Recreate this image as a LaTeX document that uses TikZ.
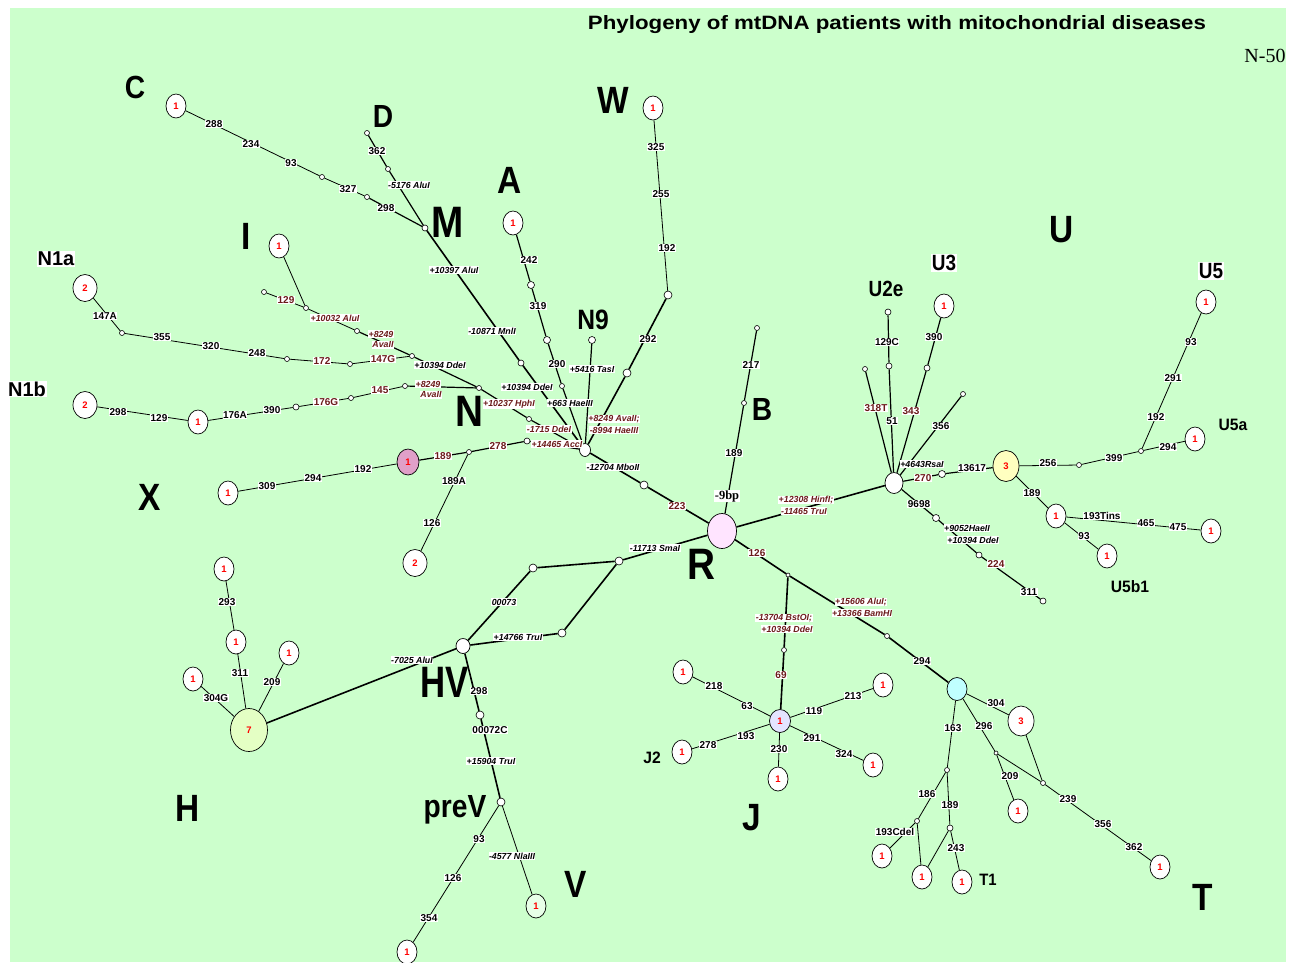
\documentclass[tikz,border=0pt]{standalone}
\usepackage{fontspec}
\usepackage{graphicx}
\setmainfont{Liberation Serif}
\setsansfont{Liberation Sans}
\usetikzlibrary{shapes.geometric}
\definecolor{bggreen}{HTML}{CCFFCC}
\definecolor{lblred}{HTML}{6B1A1A}
\definecolor{rpink}{HTML}{FFE4FF}
\definecolor{xpink}{HTML}{E0A0C8}
\definecolor{hyel}{HTML}{E4FFC4}
\definecolor{uyel}{HTML}{FFFFC0}
\definecolor{tcyan}{HTML}{C0FFFF}
\definecolor{jlav}{HTML}{E4E4FF}
\definecolor{vgreen}{HTML}{E8FFE8}
\newcounter{lbc}
\newcommand\lb[4][lab]{\stepcounter{lbc}\node[#1] (lb\arabic{lbc}) at (#2,#3) {#4};}
\newcommand\bgt[3][0.88]{\fontsize{#2}{#2}\selectfont\scalebox{#1}[1]{#3}}
\begin{document}
\begin{tikzpicture}[x=1pt,y=-1pt,
  leaf/.style={ellipse, draw, fill=white, line width=0.7pt, minimum width=20pt, minimum height=24pt, inner sep=0pt, text=red, font=\sffamily\bfseries\fontsize{9.5}{9.5}\selectfont},
  leafb/.style={leaf, minimum width=24pt, minimum height=27pt},
  leafc/.style={leaf, minimum width=26pt, minimum height=30pt},
  hub/.style={ellipse, draw, fill=white, line width=0.7pt, inner sep=0pt},
  dot/.style={circle, draw, fill=white, line width=0.6pt, minimum size=5pt, inner sep=0pt},
  bdot/.style={dot, minimum size=8pt},
  lab/.style={fill=white, inner sep=0.5pt, font=\sffamily\bfseries\fontsize{10}{10}\selectfont},
  rlab/.style={lab, text=lblred},
  ilab/.style={fill=white, inner sep=0.5pt, font=\sffamily\bfseries\itshape\fontsize{8.8}{9}\selectfont},
  irlab/.style={ilab, text=lblred},
  serlab/.style={fill=white, inner sep=0.5pt, font=\rmfamily\bfseries\fontsize{12.5}{13}\selectfont},
  big/.style={inner sep=0pt, text depth=0pt, font=\sffamily\bfseries},
  midw/.style={big, fill=white, inner sep=1pt},
  lt/.style={line width=1.6pt},
  lm/.style={line width=1.2pt},
  ln/.style={line width=0.8pt}]
\useasboundingbox (0,0) rectangle (1301,962);
\fill[bggreen] (10,8) rectangle (1286,962);
\node[anchor=base, inner sep=0pt] (title) at (897,29) {\sffamily\bfseries\resizebox{618pt}{14pt}{Phylogeny of mtDNA patients with mitochondrial diseases}};
\node[anchor=base, inner sep=0pt, font=\rmfamily\fontsize{20}{20}\selectfont] (n50) at (1265,62) {N-50};

% ---- hubs
\node[hub, fill=rpink, minimum width=29pt, minimum height=35pt] (R) at (722,531) {};
\node[hub, minimum width=11pt, minimum height=13pt] (N) at (585,450) {};
\node[hub, minimum width=18pt, minimum height=21pt] (U) at (894,483) {};
\node[hub, fill=tcyan, minimum width=20pt, minimum height=23pt] (T) at (957,689) {};
\node[leaf, fill=jlav, minimum width=21pt, minimum height=23pt] (J) at (780,721) {1};
\node[hub, minimum width=14pt, minimum height=15pt] (HV) at (463,646) {};
\node[leaf, fill=hyel, minimum width=37pt, minimum height=43pt] (H) at (249,730) {7};
\node[leaf, fill=uyel, minimum width=26pt, minimum height=31pt] (U5) at (1006,466) {3};
\node[leaf, fill=xpink, minimum width=22pt, minimum height=26pt] (X) at (408,462) {1};

% ---- small nodes
\node[bdot] (nA1) at (644,485) {};
\node[bdot] (s1) at (619,561) {};
\node[bdot] (s2) at (533,568) {};
\node[bdot] (s3) at (562,633) {};
\node[bdot] (hv1) at (480,715) {};
\node[bdot] (pv) at (501,802) {};
\node[bdot] (w1) at (627,373) {};
\node[bdot] (w2) at (668,295) {};
\node[dot, minimum size=6pt] (x1) at (527,441) {};
\node[dot] (x2) at (469,452) {};
\node[dot, minimum size=6pt] (mm) at (521,363) {};
\node[dot] (a3) at (562,386) {};
\node[dot, minimum size=7pt] (a2) at (547,340) {};
\node[dot, minimum size=7pt] (a1) at (531,285) {};
\node[dot, minimum size=7pt] (n9) at (592,340) {};
\node[dot, minimum size=6pt] (M) at (425,228) {};
\node[dot] (d1) at (388,169) {};
\node[dot] (d2) at (367,133) {};
\node[dot] (c1) at (367,197) {};
\node[dot] (c2) at (322,177) {};
\node[dot] (m1) at (529,419) {};
\node[dot] (m2) at (479,388) {};
\node[dot] (n1b1) at (405,386) {};
\node[dot] (n1b2) at (351,398) {};
\node[dot, minimum size=6pt] (n1b3) at (296,407) {};
\node[dot] (i1) at (412,356) {};
\node[dot] (i2) at (357,331) {};
\node[dot] (i3) at (306,308) {};
\node[dot] (i4) at (264,292) {};
\node[dot] (n1a1) at (350,364) {};
\node[dot] (n1a2) at (287,359) {};
\node[dot] (n1a3) at (122,333) {};
\node[dot] (B1) at (744,403) {};
\node[dot] (B2) at (757,328) {};
\node[dot, minimum size=4pt] (r126) at (788,575) {};
\node[dot] (t1) at (887,636) {};
\node[dot] (j1) at (784,650) {};
\node[dot] (u318) at (865,369) {};
\node[dot, minimum size=6pt] (u51) at (889,366) {};
\node[dot, minimum size=6pt] (u2e) at (888,312) {};
\node[dot, minimum size=6pt] (u343) at (927,368) {};
\node[dot] (u356) at (963,394) {};
\node[bdot, minimum size=7pt] (u270) at (942,474) {};
\node[bdot, minimum size=7pt] (u9698) at (936,518) {};
\node[dot, minimum size=6pt] (u224) at (979,555) {};
\node[dot, minimum size=6pt] (u311) at (1043,601) {};
\node[dot] (u5a) at (1079,465) {};
\node[dot] (u5b) at (1141,451) {};
\node[dot, minimum size=4pt] (t2) at (996,753) {};
\node[dot] (t3) at (1043,783) {};
\node[dot] (t4) at (947,770) {};
\node[dot] (t5) at (917,821) {};
\node[dot, minimum size=6pt] (t6) at (950,828) {};

% ---- leaves
\node[leaf] (Cl) at (176,106) {1};
\node[leaf] (Al) at (513,223) {1};
\node[leaf] (Wl) at (653,108) {1};
\node[leaf] (Il) at (279,246) {1};
\node[leafb] (N1al) at (85,288) {2};
\node[leafb] (N1bl) at (85,405) {2};
\node[leaf] (N1bm) at (198,422) {1};
\node[leaf] (Xl) at (228,493) {1};
\node[leafb] (x2l) at (415,563) {2};
\node[leaf] (h1) at (236,642) {1};
\node[leaf] (h2) at (224,569) {1};
\node[leaf] (h3) at (289,653) {1};
\node[leaf] (h4) at (193,679) {1};
\node[leaf] (pv1) at (407,952) {1};
\node[leaf, fill=vgreen] (V1) at (536,906) {1};
\node[leaf] (jl1) at (683,672) {1};
\node[leaf] (jl2) at (682,752) {1};
\node[leaf] (jl3) at (778,779) {1};
\node[leaf] (jl4) at (873,765) {1};
\node[leaf] (jl5) at (883,685) {1};
\node[leafc] (T3) at (1021,721) {3};
\node[leaf] (tl209) at (1018,811) {1};
\node[leaf] (tl362) at (1160,867) {1};
\node[leaf] (tl193) at (882,856) {1};
\node[leaf] (tlT1a) at (922,877) {1};
\node[leaf] (tl243) at (962,882) {1};
\node[leaf] (U3l) at (944,306) {1};
\node[leaf] (U5l) at (1206,302) {1};
\node[leaf] (U5al) at (1195,439) {1};
\node[leaf] (U5b1) at (1056,516) {1};
\node[leaf] (U5b1r) at (1211,531) {1};
\node[leaf] (U5b1d) at (1107,556) {1};

% ---- connectors
\draw[lt] (R)--(nA1) (nA1)--(N) (R)--(U) (R)--(r126) (r126)--(t1) (t1)--(T)
  (r126)--(j1) (j1)--(J) (R)--(s1) (s1)--(s2) (s2)--(HV) (s1)--(s3) (s3)--(HV)
  (HV)--(H) (HV)--(hv1) (hv1)--(pv) (N)--(mm) (mm)--(M) (N)--(w1) (w1)--(w2);
\draw[lm] (R)--(B1) (B1)--(B2) (N)--(x1) (x1)--(x2) (x2)--(X) (N)--(m1) (m1)--(m2)
  (m2)--(n1b1) (m2)--(i1) (i1)--(i2) (M)--(d1) (d1)--(d2) (M)--(c1)
  (N)--(a3) (a3)--(a2) (a2)--(a1) (a1)--(Al) (N)--(n9)
  (U)--(u318) (U)--(u51) (u51)--(u2e) (U)--(u343) (u343)--(U3l) (U)--(u356)
  (U)--(u270) (u270)--(U5) (U)--(u9698) (u9698)--(u224) (u224)--(u311);
\draw[ln] (w2)--(Wl) (i2)--(i3) (i3)--(i4) (i3)--(Il) (c1)--(c2) (c2)--(Cl)
  (i1)--(n1a1) (n1a1)--(n1a2) (n1a2)--(n1a3) (n1a3)--(N1al)
  (n1b1)--(n1b2) (n1b2)--(n1b3) (n1b3)--(N1bm) (N1bm)--(N1bl)
  (X)--(Xl) (x2)--(x2l) (H)--(h1) (h1)--(h2) (H)--(h3) (H)--(h4)
  (pv)--(pv1) (pv)--(V1)
  (J)--(jl1) (J)--(jl2) (J)--(jl3) (J)--(jl4) (J)--(jl5)
  (T)--(T3) (T3)--(t3) (T)--(t2) (t2)--(t3) (t2)--(tl209) (t3)--(tl362)
  (T)--(t4) (t4)--(t5) (t5)--(tl193) (t5)--(tlT1a) (t4)--(t6) (t6)--(tlT1a) (t6)--(tl243)
  (U5)--(u5a) (u5a)--(u5b) (u5b)--(U5al) (u5b)--(U5l)
  (U5)--(U5b1) (U5b1)--(U5b1r) (U5b1)--(U5b1d);

% ---- edge labels
\lb{214}{124}{288}\lb{251}{144}{234}\lb{291}{163}{93}\lb{348}{189}{327}\lb{386}{208}{298}
\lb{377}{151}{362}\lb[ilab]{409}{185}{-5176 AluI}
\lb[ilab]{454}{270}{+10397 AluI}\lb[ilab]{492}{331}{-10871 MnlI}\lb[ilab]{527}{387}{+10394 DdeI}
\lb{529}{260}{242}\lb{538}{306}{319}\lb{557}{364}{290}\lb[ilab]{570}{403}{+663 HaeIII}
\lb[ilab]{592}{369}{+5416 TasI}
\lb{656}{147}{325}\lb{661}{194}{255}\lb{667}{248}{192}\lb{648}{339}{292}
\lb[irlab]{614}{419}{+8249 AvaII;}\lb[irlab]{614}{430}{-8994 HaeIII}
\lb[rlab]{286}{300}{129}\lb[irlab]{335}{318}{+10032 AluI}\lb[irlab]{381}{334}{+8249}\lb[irlab]{383}{345}{AvaII}
\lb[rlab]{383}{359}{147G}\lb[rlab]{322}{361}{172}\lb{257}{353}{248}\lb{211}{346}{320}\lb{162}{337}{355}\lb{105}{316}{147A}
\lb[ilab]{440}{365}{+10394 DdeI}
\lb[irlab]{509}{404}{+10237 HphI}\lb[irlab]{549}{429}{-1715 DdeI}
\lb[irlab]{428}{384}{+8249}\lb[irlab]{431}{395}{AvaII}
\lb[rlab]{380}{390}{145}\lb[rlab]{326}{402}{176G}\lb{272}{410}{390}\lb{235}{415}{176A}\lb{159}{418}{129}\lb{118}{412}{298}
\lb[irlab]{557}{444}{+14465 AccI}\lb[rlab]{498}{446}{278}\lb[rlab]{443}{456}{189}
\lb{363}{469}{192}\lb{313}{478}{294}\lb{267}{486}{309}\lb{454}{481}{189A}\lb{432}{523}{126}
\lb[ilab]{613}{467}{-12704 MboII}\lb[rlab]{677}{506}{223}
\lb{751}{365}{217}\lb{734}{453}{189}\lb[serlab]{727}{496}{-9bp}
\lb[irlab]{806}{500}{+12308 HinfI;}\lb[irlab]{804}{511}{-11465 TruI}
\lb[rlab]{757}{553}{126}\lb[irlab]{861}{602}{+15606 AluI;}\lb[irlab]{862}{613}{+13366 BamHI}
\lb[irlab]{784}{618}{-13704 BstOI;}\lb[irlab]{787}{629}{+10394 DdeI}
\lb[rlab]{781}{675}{69}\lb{922}{661}{294}
\lb{714}{686}{218}\lb{747}{706}{63}\lb{746}{736}{193}\lb{708}{745}{278}\lb{779}{749}{230}
\lb{812}{738}{291}\lb{844}{754}{324}\lb{814}{711}{119}\lb{853}{696}{213}
\lb{996}{703}{304}\lb{984}{726}{296}\lb{1010}{776}{209}\lb{1068}{799}{239}\lb{1103}{824}{356}\lb{1134}{847}{362}
\lb{953}{728}{163}\lb{927}{794}{186}\lb{895}{832}{193Cdel}\lb{950}{805}{189}\lb{956}{848}{243}
\lb[ilab]{655}{548}{-11713 SmaI}\lb[ilab]{504}{602}{00073}\lb[ilab]{518}{637}{+14766 TruI}
\lb[ilab]{412}{660}{-7025 AluI}\lb{479}{691}{298}\lb{490}{730}{00072C}\lb[ilab]{491}{761}{+15904 TruI}
\lb{240}{673}{311}\lb{227}{602}{293}\lb{272}{682}{209}\lb{216}{698}{304G}
\lb{479}{839}{93}\lb{453}{878}{126}\lb{429}{918}{354}\lb[ilab]{512}{856}{-4577 NlaIII}
\lb[rlab]{876}{408}{318T}\lb{892}{421}{51}\lb{887}{342}{129C}\lb[rlab]{911}{411}{343}\lb{934}{337}{390}
\lb{941}{426}{356}\lb[ilab]{922}{464}{+4643RsaI}\lb[rlab]{923}{478}{270}\lb{972}{468}{13617}
\lb{919}{504}{9698}\lb[ilab]{967}{528}{+9052HaeII}\lb[ilab]{973}{540}{+10394 DdeI}
\lb[rlab]{996}{564}{224}\lb{1029}{592}{311}
\lb{1048}{463}{256}\lb{1114}{458}{399}\lb{1168}{447}{294}\lb{1156}{417}{192}\lb{1173}{378}{291}\lb{1191}{342}{93}
\lb{1032}{493}{189}\lb{1102}{516}{193Tins}\lb{1146}{523}{465}\lb{1178}{527}{475}\lb{1084}{536}{93}

% ---- group names
\node[big] (gC) at (135,87) {\bgt{32}{C}};
\node[big] (gD) at (383,116) {\bgt{32}{D}};
\node[big] (gM) at (448,222) {\bgt{44}{M}};
\node[big] (gA) at (510,180) {\bgt{38}{A}};
\node[big] (gW) at (613,100) {\bgt{38}{W}};
\node[big] (gI) at (246,236) {\bgt{38}{I}};
\node[big] (gN) at (469,411) {\bgt{44}{N}};
\node[big] (gX) at (150,497) {\bgt{38}{X}};
\node[big] (gB) at (762,409) {\bgt{32}{B}};
\node[big] (gR) at (701,564) {\bgt{44}{R}};
\node[big] (gU) at (1062,229) {\bgt{38}{U}};
\node[big] (gHV) at (445,682) {\bgt[0.79]{44}{HV}};
\node[big] (gH) at (188,808) {\bgt{38}{H}};
\node[big] (gpreV) at (455,806) {\bgt{32}{preV}};
\node[big] (gV) at (576,884) {\bgt{38}{V}};
\node[big] (gJ) at (752,817) {\bgt{38}{J}};
\node[big] (gT) at (1203,897) {\bgt{38}{T}};
\node[big] (gN9) at (593,320) {\bgt{28}{N9}};
\node[midw] (gN1a) at (56,259) {\bgt[1]{20}{N1a}};
\node[midw] (gN1b) at (27,389) {\bgt[1]{20}{N1b}};
\node[big] (gU2e) at (886,289) {\bgt[0.86]{22}{U2e}};
\node[midw] (gU3) at (944,263) {\bgt[0.86]{22}{U3}};
\node[midw] (gU5) at (1211,271) {\bgt[0.86]{22}{U5}};
\node[big] (gU5a) at (1233,425) {\bgt[0.95]{16.5}{U5a}};
\node[big] (gU5b1) at (1130,587) {\bgt[0.95]{16.5}{U5b1}};
\node[big] (gJ2) at (652,758) {\bgt[0.95]{16.5}{J2}};
\node[big] (gT1) at (988,880) {\bgt[0.9]{16.5}{T1}};
\end{tikzpicture}
\end{document}
